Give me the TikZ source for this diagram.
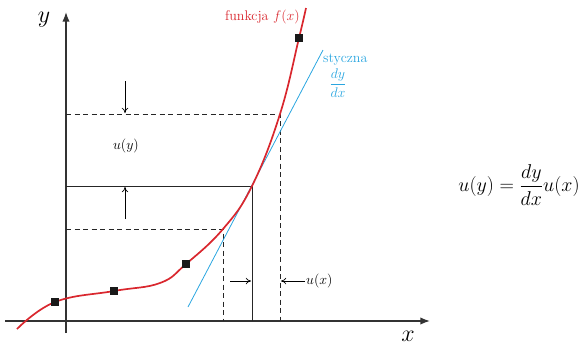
\RequirePackage{fix-cm}
\documentclass[tikz,border=0pt]{standalone}
\usepackage{amsmath}
\usepackage{tikz}
\usetikzlibrary{arrows.meta,positioning}
\definecolor{redf}{HTML}{D9272E}
\definecolor{bluet}{HTML}{2AA6E0}
\definecolor{axisg}{HTML}{333333}
\tikzset{
  ax/.style={-{Latex[length=3.4mm,width=2.6mm]},line width=1.5pt,axisg},
  sq/.style={rectangle,fill=black!90,minimum size=7.5pt,inner sep=0pt},
  gl/.style={line width=0.8pt,black!85},
  dl/.style={gl,dash pattern=on 5pt off 3.5pt},
  ms/.style={-{To[length=1.8mm,width=2.2mm]},line width=0.7pt,black},
  lbl/.style={font=\fontsize{14}{16}\selectfont}
}

\begin{document}
\begin{tikzpicture}[x=1pt,y=-1pt]
\useasboundingbox (0,0) rectangle (584,349);
% axes
\coordinate (yb) at (66,333);
\coordinate (yt) at (66,12);
\coordinate (xl) at (5,321);
\coordinate (xr) at (430,321);
\draw[ax] (yb) -- (yt);
\draw[ax] (xl) -- (xr);
\node[font=\fontsize{24}{26}\selectfont] (ly) at (44,20) {$y$};
\node[font=\fontsize{24}{26}\selectfont] (lx) at (408,336) {$x$};
% helper lines
\coordinate (ya) at (66,114);
\coordinate (yk) at (66,186);
\coordinate (yc) at (66,229);
\coordinate (xa) at (223,321);
\coordinate (xk) at (252,321);
\coordinate (xc) at (280,321);
\coordinate (pa) at (223,229);
\coordinate (pk) at (252,186);
\coordinate (pc) at (280,114);
\draw[dl] (yc) -- (pa) -- (xa);
\draw[gl] (yk) -- (pk) -- (xk);
\draw[dl] (ya) -- (pc) -- (xc);
% tangent
\coordinate (tb) at (188,307);
\coordinate (tt) at (323,50);
\draw[bluet,line width=0.8pt] (tb) -- (tt);
% function
\draw[redf,line width=1.7pt] plot[smooth,tension=0.7] coordinates
  {(17,329) (55,302) (114,291) (160,283) (186,264) (223,229) (252,186) (280,114) (299,38) (306,8)};
\foreach \xx/\yy/\l in {55/302/1,114/291/2,186/264/3,299/38/4}{\node[sq] (m\l) at (\xx,\yy) {};}
% shifts
\coordinate (d1) at (125,81);
\coordinate (d2) at (125,113);
\coordinate (u1) at (125,219);
\coordinate (u2) at (125,187);
\coordinate (r1) at (230,281);
\coordinate (r2) at (251,281);
\coordinate (l1) at (305,281);
\coordinate (l2) at (281,281);
\draw[ms] (d1) -- (d2);
\draw[ms] (u1) -- (u2);
\draw[ms] (r1) -- (r2);
\draw[ms] (l1) -- (l2);
\node[lbl] (uy) at (126,146) {$u(y)$};
\node[lbl,anchor=west,inner sep=1pt] (ux) at (l1) {$u(x)$};
% labels
\node[lbl,redf,anchor=east,inner sep=1pt] (fn) at (301,17) {funkcja $f(x)$};
\node[lbl,bluet,anchor=west,inner sep=1pt] (st) at (322,60) {styczna};
\node[lbl,bluet] (dd) at (338,83) {$\dfrac{dy}{dx}$};
\node[font=\fontsize{20}{22}\selectfont] (eq) at (519,185) {$u(y)=\dfrac{dy}{dx}u(x)$};
\end{tikzpicture}
\end{document}
